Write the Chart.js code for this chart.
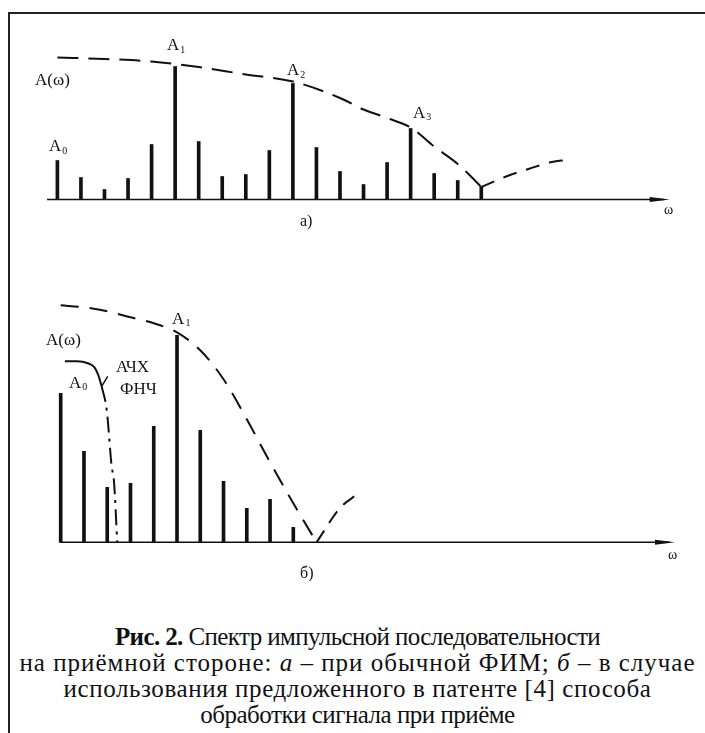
<!DOCTYPE html>
<html lang="ru">
<head>
<meta charset="utf-8">
<title>Рис. 2. Спектр импульсной последовательности</title>
<script src="https://cdn.jsdelivr.net/npm/chart.js@4.4.1/dist/chart.umd.min.js"></script>
<style>
  html, body { margin: 0; padding: 0; background: #fff; }
  body { width: 705px; height: 733px; position: relative; overflow: hidden; font-family: "Liberation Serif", "Times New Roman", serif; color: #111; }
  .frame { position: absolute; left: 8px; top: 12px; width: 720px; height: 740px; border-left: 2px solid #222; border-top: 2px solid #222; }
  canvas { position: absolute; left: 0; }
  #chartA { top: 0; }
  #chartB { top: 260px; }
  .caption { position: absolute; left: 10px; width: 695px; top: 624px; text-align: center; font-size: 25px; line-height: 26px; white-space: nowrap; }
  .l1 { letter-spacing: -0.6px; }
  .l2 { letter-spacing: 1px; }
  .l3 { letter-spacing: 0.6px; }
  .l4 { letter-spacing: -0.5px; }
</style>
</head>
<body>
<div class="frame"></div>
<canvas id="chartA" width="705" height="240"></canvas>
<canvas id="chartB" width="705" height="330"></canvas>
<div class="caption"><span class="l1"><b>Рис. 2.</b> Спектр импульсной последовательности</span><br><span class="l2">на приёмной стороне: <i>а</i> – при обычной ФИМ; <i>б</i> – в случае</span><br><span class="l3">использования предложенного в патенте [4] способа</span><br><span class="l4">обработки сигнала при приёме</span></div>
<script>
// panel a) - spectrum with ordinary PPM (harmonic number / amplitude)
const harmonicsA = [0, 1, 2, 3, 4, 5, 6, 7, 8, 9, 10, 11, 12, 13, 14, 15, 16, 17, 18];
const amplitudesA = [39, 22, 10, 21, 55, 133, 58, 23, 25, 49, 116, 52, 28, 15, 37, 71, 26, 19, 13];
const envelopeOmegaA = [0, 2, 4, 6, 8, 10, 12, 13, 14, 15, 16, 17, 17.5, 18];
const envelopeA = [142, 140.5, 138, 132.5, 125, 118, 101.5, 90, 81.5, 72, 53, 35.5, 24.5, 12.5];
const sideOmegaA = [18, 19, 20, 21, 21.6];
const sideA = [12.5, 22.5, 30.5, 37.5, 39.5];

// panel б) - spectrum with the patented processing
const harmonicsB = [0, 1, 2, 3, 4, 5, 6, 7, 8, 9, 10];
const amplitudesB = [149, 91, 55, 59, 116, 207, 112, 61, 34, 43, 15];
const envelopeOmegaB = [0, 1, 2, 3, 4, 5, 6, 7, 8, 9, 10, 11];
const envelopeB = [237, 235, 231, 225, 219, 210, 192, 163, 123, 80, 39, 0];
const sideOmegaB = [11, 12, 12.8];
const sideB = [0, 34, 49];
// low-pass filter response (АЧХ ФНЧ)
const filterOmega = [0.18, 0.7, 1.17, 1.45, 1.62, 1.76];
const filterGain = [181, 181, 179, 175, 167, 156];
const filterTailOmega = [1.76, 1.98, 2.19, 2.29, 2.43];
const filterTailGain = [156, 132, 76, 61, 0];

const ink = "#111";
const serif = '"Liberation Serif", "Times New Roman", serif';

function points(xs, ys) {
  return xs.map((x, i) => ({ x, y: ys[i] }));
}

// omega axis with arrow + text labels, all placed through the chart scales
const figurePlugin = {
  id: "figure",
  beforeDatasetsDraw(chart, args, opts) {
    const { ctx, scales } = chart;
    const y0 = scales.y.getPixelForValue(0);
    const x1 = scales.x.getPixelForValue(opts.axisFrom);
    const x2 = scales.x.getPixelForValue(opts.axisTo);
    ctx.save();
    ctx.strokeStyle = ink;
    ctx.fillStyle = ink;
    ctx.lineWidth = 1.6;
    ctx.beginPath();
    ctx.moveTo(x1, y0);
    ctx.lineTo(x2 - 6, y0);
    ctx.stroke();
    ctx.beginPath();
    ctx.moveTo(x2, y0);
    ctx.lineTo(x2 - 20, y0 - 2.5);
    ctx.lineTo(x2 - 20, y0 + 2.5);
    ctx.closePath();
    ctx.fill();
    ctx.restore();
  },
  afterDatasetsDraw(chart, args, opts) {
    const { ctx, scales } = chart;
    ctx.save();
    ctx.fillStyle = ink;
    ctx.strokeStyle = ink;
    ctx.textBaseline = "middle";
    ctx.textAlign = "left";
    (opts.labels || []).forEach((label) => {
      const px = scales.x.getPixelForValue(label.x);
      const py = scales.y.getPixelForValue(label.y);
      ctx.font = `${label.size || 17}px ${serif}`;
      ctx.fillText(label.text, px, py);
      if (label.sub) {
        const w = ctx.measureText(label.text).width;
        ctx.font = `10px ${serif}`;
        ctx.fillText(label.sub, px + w + 1, py + 4);
      }
    });
    (opts.leaders || []).forEach((l) => {
      ctx.lineWidth = 1.5;
      ctx.beginPath();
      ctx.moveTo(scales.x.getPixelForValue(l[0]), scales.y.getPixelForValue(l[1]));
      ctx.lineTo(scales.x.getPixelForValue(l[2]), scales.y.getPixelForValue(l[3]));
      ctx.stroke();
    });
    ctx.restore();
  },
};

function spikes(xs, ys) {
  return {
    type: "bar",
    data: points(xs, ys),
    backgroundColor: ink,
    barThickness: 3,
    grouped: false,
    order: 2,
  };
}

function dashed(xs, ys, dash, width = 2) {
  return {
    type: "line",
    data: points(xs, ys),
    borderColor: ink,
    borderWidth: width,
    borderDash: dash,
    pointRadius: 0,
    fill: false,
    cubicInterpolationMode: "monotone",
    order: 1,
  };
}

function makePanel(id, datasets, range, figure) {
  return new Chart(document.getElementById(id), {
    type: "line",
    data: { datasets },
    options: {
      responsive: false,
      animation: false,
      devicePixelRatio: 1,
      layout: { padding: 0 },
      plugins: { legend: { display: false }, tooltip: { enabled: false }, figure },
      scales: {
        x: { type: "linear", display: false, offset: false, min: range.xMin, max: range.xMax },
        y: { type: "linear", display: false, min: range.yMin, max: range.yMax },
      },
    },
    plugins: [figurePlugin],
  });
}

makePanel("chartA", [
  spikes(harmonicsA, amplitudesA),
  dashed(envelopeOmegaA, envelopeA, [21, 10]),
  dashed(sideOmegaA, sideA, [14, 10]),
], { xMin: -2.437, xMax: 27.50, yMin: -40.5, yMax: 199.5 }, {
  axisFrom: -0.44,
  axisTo: 26.0,
  labels: [
    { text: "A(\u03c9)", x: -0.95, y: 118.5 },
    { text: "A", sub: "1", x: 4.65, y: 153.5 },
    { text: "A", sub: "2", x: 9.75, y: 128.5 },
    { text: "A", sub: "3", x: 15.1, y: 86 },
    { text: "A", sub: "0", x: -0.36, y: 52.5 },
    { text: "а)", x: 10.3, y: -22, size: 16 },
    { text: "\u03c9", x: 25.76, y: -10.5, size: 14 },
  ],
});

makePanel("chartB", [
  spikes(harmonicsB, amplitudesB),
  dashed(envelopeOmegaB, envelopeB, [18, 11]),
  dashed(sideOmegaB, sideB, [14, 9]),
  dashed(filterOmega, filterGain, []),
  dashed(filterTailOmega, filterTailGain, [16, 6, 3, 6]),
], { xMin: -2.61, xMax: 27.70, yMin: -47.7, yMax: 282.3 }, {
  axisFrom: 0,
  axisTo: 26.41,
  labels: [
    { text: "A(\u03c9)", x: -0.63, y: 202 },
    { text: "A", sub: "1", x: 4.79, y: 223 },
    { text: "A", sub: "0", x: 0.36, y: 159 },
    { text: "АЧХ", x: 2.38, y: 175 },
    { text: "ФНЧ", x: 2.55, y: 153 },
    { text: "б)", x: 10.29, y: -31, size: 16 },
    { text: "\u03c9", x: 26.11, y: -13, size: 14 },
  ],
  leaders: [[1.76, 156, 2.02, 166]],
});
</script>
</body>
</html>
